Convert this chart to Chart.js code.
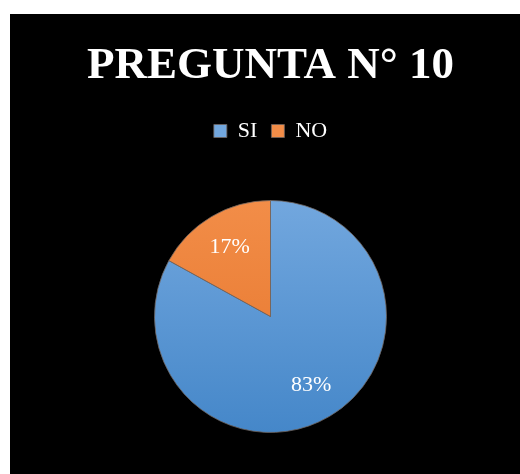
<!DOCTYPE html>
<html>
<head>
<meta charset="utf-8">
<title>PREGUNTA N° 10</title>
<script src="https://cdn.jsdelivr.net/npm/chart.js@4/dist/chart.umd.min.js"></script>
<style>
  body { margin: 0; background: #fff; }
  #wrap { position: absolute; left: 10px; top: 14px; width: 510px; height: 460px; background: #000; overflow: hidden; }
  #box { position: relative; width: 510px; height: 467px; }
</style>
</head>
<body>
<div id="wrap"><div id="box"><canvas id="pieChart"></canvas></div></div>
<script>
// Respuestas
const labels = ["SI", "NO"];
const values = [83, 17];
const colorsTop = ["#72a7de", "#f28d48"];
const colorsBottom = ["#4587c9", "#e5742a"];

// degradado vertical para cada porción
function sliceGradient(ctx) {
  const chart = ctx.chart;
  const area = chart.chartArea;
  if (!area) return colorsTop[ctx.dataIndex];
  const cy = (area.top + area.bottom) / 2;
  const g = chart.ctx.createLinearGradient(0, cy - 116, 0, cy + 116);
  g.addColorStop(0, colorsTop[ctx.dataIndex]);
  g.addColorStop(1, colorsBottom[ctx.dataIndex]);
  return g;
}

// etiquetas de porcentaje dentro de cada porción
const pctLabels = {
  id: "pctLabels",
  afterDatasetsDraw(chart) {
    const ctx = chart.ctx;
    const meta = chart.getDatasetMeta(0);
    const total = values.reduce((a, b) => a + b, 0);
    ctx.save();
    ctx.fillStyle = "#fff";
    ctx.font = "22px 'Liberation Serif', 'DejaVu Serif', serif";
    ctx.textAlign = "center";
    ctx.textBaseline = "middle";
    meta.data.forEach((arc, i) => {
      const p = arc.getProps(["x", "y", "startAngle", "endAngle", "outerRadius"], true);
      const mid = (p.startAngle + p.endAngle) / 2;
      const r = p.outerRadius * 0.69;
      const txt = Math.round((values[i] / total) * 100) + "%";
      ctx.fillText(txt, p.x + Math.cos(mid) * r, p.y + Math.sin(mid) * r);
    });
    ctx.restore();
  },
};

new Chart(document.getElementById("pieChart"), {
  type: "pie",
  data: {
    labels: labels,
    datasets: [
      {
        data: values,
        backgroundColor: sliceGradient,
        borderColor: "rgba(110,100,95,0.8)",
        borderWidth: 1,
        radius: 116,
      },
    ],
  },
  options: {
    responsive: true,
    maintainAspectRatio: false,
    animation: false,
    layout: { padding: { left: 11, right: 0, top: 0, bottom: 0 } },
    plugins: {
      title: {
        display: true,
        text: "PREGUNTA N° 10",
        color: "#fff",
        font: { family: "'Liberation Serif', 'DejaVu Serif', serif", size: 45, weight: "bold" },
        padding: { top: 25, bottom: 13 },
      },
      legend: {
        position: "top",
        labels: {
          color: "#fff",
          boxWidth: 13,
          boxHeight: 13,
          padding: 14,
          font: { family: "'Liberation Serif', 'DejaVu Serif', serif", size: 22 },
        },
      },
      tooltip: { enabled: false },
    },
  },
  plugins: [pctLabels],
});
</script>
</body>
</html>
